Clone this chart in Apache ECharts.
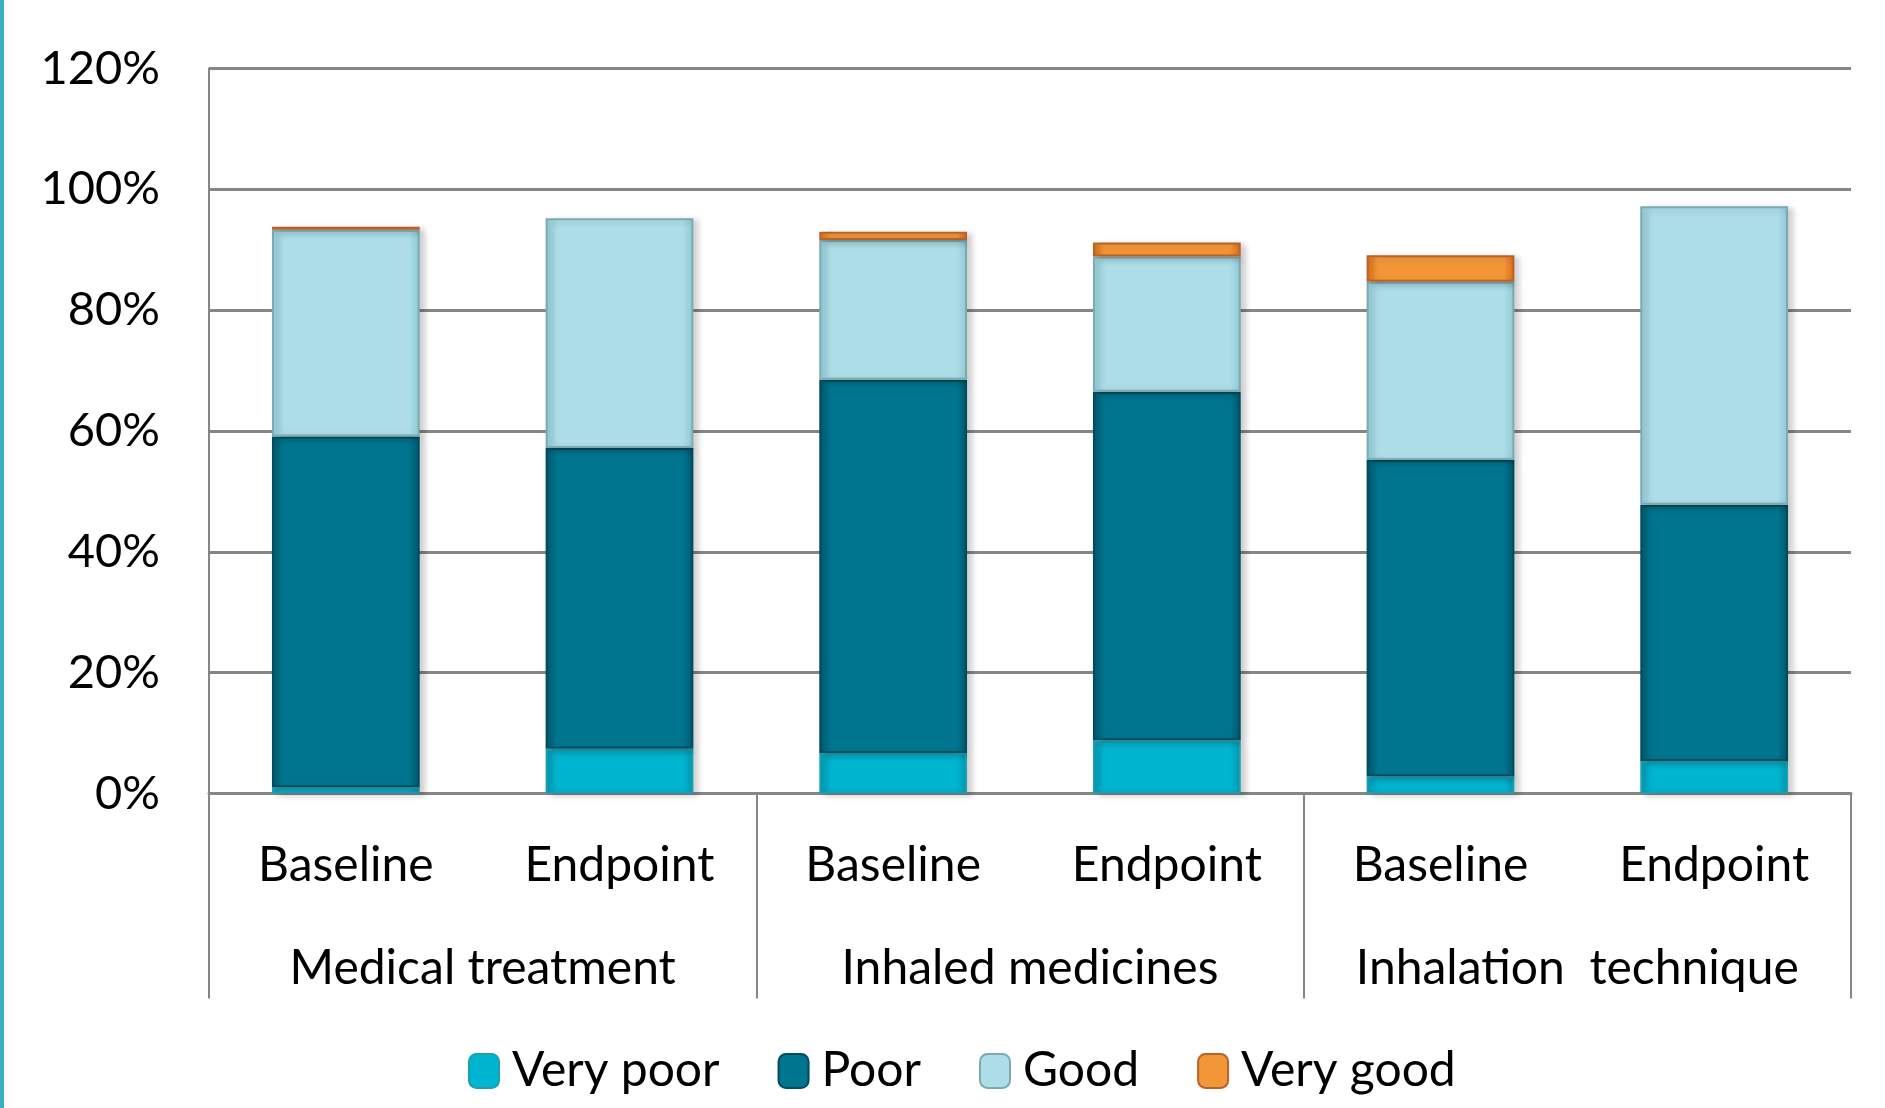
<!DOCTYPE html>
<html><head><meta charset="utf-8">
<script src="https://cdn.jsdelivr.net/npm/echarts@6/dist/echarts.min.js"></script>
<style>html,body{margin:0;padding:0;background:#fff}#c{width:1885px;height:1108px}</style>
</head><body><div id="c"></div>
<script>
const categories = ['Baseline','Endpoint','Baseline','Endpoint','Baseline','Endpoint'];
const groups = ['Medical treatment','Inhaled medicines','Inhalation  technique'];
const yTicks = [0,20,40,60,80,100,120];
const veryPoor = [1.0, 7.4, 6.7, 8.8, 2.8, 5.4];
const poor     = [58.1, 49.8, 61.8, 57.7, 52.4, 42.4];
const good     = [34.2, 38.0, 23.1, 22.4, 29.5, 49.4];
const veryGood = [0.5, 0, 1.4, 2.3, 4.4, 0];

const FONT = 'Lato';
function grad(edge, base){
  return new echarts.graphic.LinearGradient(0,0,1,0,[
    {offset:0,color:edge},{offset:0.07,color:base},{offset:0.93,color:base},{offset:1,color:edge}]);
}
function ser(name, data, edge, base, border){
  return {name, type:'bar', stack:'s', data:data.map(v=>v===0?'-':v), barWidth:'54%',
    itemStyle:{color:grad(edge,base), borderColor:border, borderWidth:2,
      shadowColor:'rgba(0,0,0,0.18)', shadowBlur:6, shadowOffsetX:5, shadowOffsetY:2},
    emphasis:{disabled:true}};
}
const chart = echarts.init(document.getElementById('c'));
chart.setOption({
  animation:false,
  graphic:[{type:'rect', shape:{x:0,y:0,width:4,height:1108}, style:{fill:'#3AAFC2'}}],
  grid:{left:209, right:34, top:68.5, bottom:314.5},
  legend:{bottom:8, left:463, itemWidth:30, itemHeight:34, itemGap:58,
    textStyle:{fontFamily:FONT, fontSize:48, color:'#000', padding:[0,0,0,8]},
    data:['Very poor','Poor','Good','Very good']},
  xAxis:[
    {type:'category', data:categories, position:'bottom',
     axisLine:{show:true, lineStyle:{color:'#868686', width:3}},
     axisTick:{show:false},
     axisLabel:{interval:0, hideOverlap:false, margin:48, fontFamily:FONT, fontSize:48, color:'#000'}},
    {type:'category', data:groups, position:'bottom', gridIndex:0,
     axisLine:{show:false},
     axisTick:{show:true, interval:0, length:205, lineStyle:{color:'#868686', width:2}},
     axisLabel:{interval:0, hideOverlap:false, margin:151, fontFamily:FONT, fontSize:48, color:'#000'}}
  ],
  yAxis:{type:'value', min:0, max:120, interval:20,
    axisLine:{show:true, lineStyle:{color:'#868686', width:2}},
    axisTick:{show:false},
    splitLine:{lineStyle:{color:'#868686', width:3}},
    axisLabel:{margin:49, fontFamily:FONT, fontSize:47, color:'#000',
      formatter:v=>yTicks.includes(v)?v+'%':''}},
  series:[
    ser('Very poor', veryPoor, '#0095AD', '#00B5D0', '#1B9FB3'),
    ser('Poor', poor, '#00566A', '#00758F', '#004D5E'),
    ser('Good', good, '#8CC9D5', '#ADDDE7', '#7DA9B1'),
    ser('Very good', veryGood, '#D96A17', '#F39637', '#B8622A')
  ]
});
</script></body></html>
